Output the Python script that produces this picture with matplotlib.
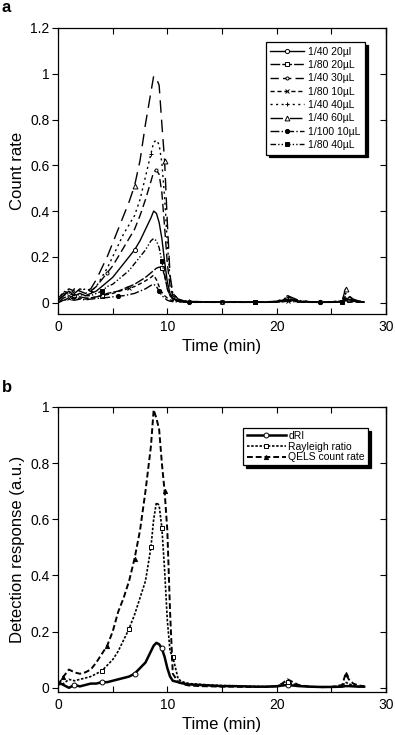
import matplotlib
matplotlib.use('Agg')
import matplotlib.pyplot as plt
from matplotlib.ticker import MultipleLocator

plt.rcParams['font.family'] = ['Liberation Sans', 'DejaVu Sans']

# Elution time (min), shared by all traces
time_min = [0, 0.5, 1, 1.5, 2, 2.5, 3, 3.5, 4, 4.5, 5, 5.5, 6, 6.5, 7, 7.5, 8,
            8.5, 8.75, 9, 9.25, 9.5, 9.75, 10, 10.25, 10.5, 11, 11.5, 12,
            13, 14, 15, 16, 17, 18, 19, 20, 20.5, 21, 21.5, 22,
            23, 24, 25, 26, 26.3, 26.6, 27, 27.5, 28]

# Panel a: QELS count rate for different dilutions / injection volumes
labels_a = ['1/40 20µl', '1/80 20µL', '1/40 30µL', '1/80 10µL',
            '1/40 40µL', '1/40 60µL', '1/100 10µL', '1/80 40µL']

cr_40_20 = [0.01, 0.03, 0.05, 0.03, 0.04, 0.03, 0.04, 0.05, 0.07, 0.09, 0.11, 0.14, 0.17,
            0.20, 0.23, 0.27, 0.32, 0.37, 0.40, 0.39, 0.35, 0.28, 0.18, 0.09, 0.04, 0.02,
            0.01, 0.006, 0.004, 0.003, 0.002, 0.002, 0.001, 0.002, 0.002, 0.001, 0.003,
            0.008, 0.015, 0.01, 0.006, 0.002, 0.001, 0.002, 0.004, 0.02, 0.015, 0.008,
            0.004, 0.002]
cr_80_20 = [0.0, 0.02, 0.03, 0.02, 0.025, 0.02, 0.02, 0.025, 0.03, 0.04, 0.045, 0.05, 0.06,
            0.07, 0.08, 0.095, 0.11, 0.13, 0.14, 0.15, 0.155, 0.15, 0.12, 0.06, 0.03, 0.015,
            0.008, 0.005, 0.003, 0.002, 0.002, 0.001, 0.002, 0.001, 0.001, 0.002, 0.003,
            0.006, 0.012, 0.008, 0.004, 0.002, 0.001, 0.001, 0.003, 0.015, 0.01, 0.006,
            0.003, 0.002]
cr_40_30 = [0.02, 0.04, 0.06, 0.05, 0.05, 0.04, 0.05, 0.07, 0.10, 0.13, 0.16, 0.20, 0.24,
            0.28, 0.32, 0.38, 0.45, 0.53, 0.57, 0.58, 0.56, 0.48, 0.33, 0.17, 0.07, 0.03,
            0.012, 0.006, 0.004, 0.003, 0.002, 0.002, 0.002, 0.001, 0.002, 0.002, 0.004,
            0.01, 0.02, 0.014, 0.008, 0.003, 0.002, 0.002, 0.006, 0.03, 0.02, 0.01,
            0.005, 0.003]
cr_80_10 = [0.0, 0.01, 0.02, 0.015, 0.02, 0.015, 0.02, 0.025, 0.03, 0.035, 0.04, 0.048, 0.055,
            0.062, 0.07, 0.082, 0.095, 0.11, 0.12, 0.10, 0.07, 0.045, 0.03, 0.02, 0.012, 0.008,
            0.005, 0.003, 0.002, 0.002, 0.001, 0.001, 0.001, 0.001, 0.001, 0.001, 0.002,
            0.004, 0.008, 0.006, 0.003, 0.001, 0.001, 0.001, 0.002, 0.01, 0.007, 0.004,
            0.002, 0.001]
cr_40_40 = [0.01, 0.05, 0.04, 0.06, 0.05, 0.06, 0.05, 0.07, 0.11, 0.15, 0.20, 0.25, 0.30,
            0.34, 0.38, 0.45, 0.55, 0.65, 0.70, 0.71, 0.69, 0.61, 0.46, 0.26, 0.10, 0.04,
            0.015, 0.008, 0.005, 0.004, 0.003, 0.002, 0.002, 0.003, 0.002, 0.002, 0.005,
            0.012, 0.025, 0.016, 0.009, 0.004, 0.002, 0.002, 0.008, 0.04, 0.025, 0.012,
            0.006, 0.003]
cr_40_60 = [0.01, 0.03, 0.06, 0.04, 0.06, 0.05, 0.06, 0.10, 0.15, 0.20, 0.26, 0.32, 0.38,
            0.44, 0.51, 0.62, 0.78, 0.92, 0.99, 0.98, 0.95, 0.78, 0.62, 0.35, 0.12, 0.04,
            0.015, 0.008, 0.005, 0.004, 0.003, 0.003, 0.002, 0.003, 0.002, 0.003, 0.006,
            0.014, 0.03, 0.02, 0.01, 0.004, 0.002, 0.003, 0.01, 0.06, 0.03, 0.015,
            0.007, 0.004]
cr_100_10 = [0.0, 0.01, 0.015, 0.01, 0.015, 0.012, 0.015, 0.018, 0.02, 0.022, 0.025, 0.028,
             0.03, 0.035, 0.04, 0.05, 0.06, 0.075, 0.08, 0.07, 0.05, 0.03, 0.02, 0.01, 0.006,
             0.004, 0.003, 0.002, 0.001, 0.001, 0.001, 0.001, 0.001, 0.001, 0.001, 0.001,
             0.002, 0.003, 0.006, 0.004, 0.002, 0.001, 0.001, 0.001, 0.002, 0.008, 0.006,
             0.003, 0.002, 0.001]
cr_80_40 = [0.01, 0.03, 0.04, 0.03, 0.035, 0.03, 0.03, 0.04, 0.05, 0.07, 0.08, 0.10, 0.12,
            0.14, 0.17, 0.20, 0.23, 0.27, 0.28, 0.27, 0.24, 0.18, 0.12, 0.06, 0.03, 0.015,
            0.007, 0.004, 0.003, 0.002, 0.002, 0.001, 0.002, 0.001, 0.002, 0.001, 0.003,
            0.007, 0.014, 0.01, 0.005, 0.002, 0.001, 0.002, 0.004, 0.02, 0.014, 0.007,
            0.004, 0.002]
series_a = [cr_40_20, cr_80_20, cr_40_30, cr_80_10, cr_40_40, cr_40_60, cr_100_10, cr_80_40]

# Panel b: detector responses for one run
labels_b = ['dRI', 'Rayleigh ratio', 'QELS count rate']
dri = [0.02, 0.01, 0.0, 0.01, 0.005, 0.01, 0.015, 0.015, 0.02, 0.02, 0.025, 0.03, 0.035,
       0.04, 0.05, 0.07, 0.09, 0.13, 0.15, 0.16, 0.155, 0.14, 0.11, 0.07, 0.04, 0.025,
       0.02, 0.015, 0.012, 0.01, 0.008, 0.006, 0.006, 0.005, 0.004, 0.004, 0.005,
       0.008, 0.01, 0.008, 0.006, 0.004, 0.003, 0.003, 0.004, 0.006, 0.006, 0.005,
       0.004, 0.004]
rayleigh = [0.01, 0.015, 0.03, 0.025, 0.03, 0.035, 0.04, 0.05, 0.06, 0.08, 0.10, 0.13,
            0.17, 0.21, 0.26, 0.32, 0.38, 0.50, 0.60, 0.66, 0.65, 0.57, 0.42, 0.24, 0.13,
            0.11, 0.03, 0.02, 0.015, 0.012, 0.01, 0.008, 0.007, 0.006, 0.005, 0.004, 0.006,
            0.012, 0.02, 0.014, 0.008, 0.004, 0.003, 0.003, 0.006, 0.02, 0.014, 0.008,
            0.005, 0.004]
qels = [0.01, 0.04, 0.065, 0.055, 0.05, 0.055, 0.065, 0.09, 0.12, 0.15, 0.20, 0.27, 0.32,
        0.38, 0.46, 0.56, 0.70, 0.86, 0.99, 0.96, 0.92, 0.80, 0.70, 0.56, 0.27, 0.05,
        0.02, 0.012, 0.008, 0.006, 0.005, 0.004, 0.004, 0.003, 0.003, 0.003, 0.006,
        0.015, 0.03, 0.02, 0.01, 0.004, 0.002, 0.003, 0.01, 0.05, 0.03, 0.015,
        0.008, 0.006]
series_b = [dri, rayleigh, qels]

yticks_a = [0, 0.2, 0.4, 0.6, 0.8, 1, 1.2]
yticks_b = [0, 0.2, 0.4, 0.6, 0.8, 1]
xticks = [0, 10, 20, 30]

# Line styles (panel a in legend order)
styles_a = [
    dict(ls='-', marker='o', mfc='white', ms=3),
    dict(ls=(0, (7, 1.5)), marker='s', mfc='white', ms=3),
    dict(ls=(0, (6, 3)), marker='o', mfc='white', ms=2.2),
    dict(ls=(0, (3, 2)), marker='x', mfc='white', ms=3),
    dict(ls=(0, (1.5, 2.5)), marker='+', mfc='white', ms=3.5),
    dict(ls=(0, (9, 5)), marker='^', mfc='white', ms=3.5),
    dict(ls='-.', marker='o', mfc='black', ms=3),
    dict(ls=(0, (4, 1.5, 1, 1.5, 1, 1.5)), marker='s', mfc='black', ms=3),
]
marks_a = [[3, 14, 31, 42], [8, 21, 34, 46], [9, 19, 34, 46], [2, 13, 31, 38],
           [6, 17, 28, 38], [14, 22, 45], [11, 20, 28, 42], [8, 21, 34, 44]]

styles_b = [
    dict(ls='-', lw=1.8, marker='o', mfc='white', ms=3.5),
    dict(ls=(0, (1.5, 1)), lw=1.2, marker='s', mfc='white', ms=3.5),
    dict(ls=(0, (3, 1.5)), lw=1.4, marker='^', mfc='black', ms=3),
]
marks_b = [[3, 8, 14, 21, 38], [8, 13, 17, 21, 25, 38], [1, 9, 14, 22, 45]]


def style_axes(ax, ylim, yticks, ylabel):
    ax.set_xlim(0, 30)
    ax.set_ylim(*ylim)
    ax.set_xticks(xticks)
    ax.xaxis.set_minor_locator(MultipleLocator(5))
    ax.set_yticks(yticks)
    ax.set_yticklabels([('%g' % v) for v in yticks])
    ax.tick_params(axis='x', which='both', direction='in', top=True,
                   length=4, width=0.8, labelsize=10, pad=4)
    ax.tick_params(axis='y', direction='out', right=False,
                   length=4, width=0.8, labelsize=10, pad=2)
    # right-hand ticks point inwards
    sec = ax.secondary_yaxis('right')
    sec.set_yticks(yticks)
    sec.tick_params(direction='in', length=4, width=0.8, labelright=False)
    sec.spines['right'].set_linewidth(0.9)
    ax.set_xlabel('Time (min)', fontsize=12, labelpad=4)
    ax.set_ylabel(ylabel, fontsize=12, labelpad=4)
    for sp in ax.spines.values():
        sp.set_linewidth(0.9)


fig = plt.figure(figsize=(3.95, 7.35), dpi=100)
ax_a = fig.add_axes([58 / 395, 1 - 314 / 735, 328 / 395, 286 / 735])
ax_b = fig.add_axes([58 / 395, 1 - 692 / 735, 328 / 395, 285 / 735])

for vals, lab, st, mk in zip(series_a, labels_a, styles_a, marks_a):
    ax_a.plot(time_min, vals, color='black', lw=1.0, mec='black', mew=0.7,
              markevery=mk, label=lab, **st)

for vals, lab, st, mk in zip(series_b, labels_b, styles_b, marks_b):
    ax_b.plot(time_min, vals, color='black', mec='black', mew=0.7,
              markevery=mk, label=lab, **st)

style_axes(ax_a, (-0.05, 1.2), yticks_a, 'Count rate')
style_axes(ax_b, (-0.015, 1.0), yticks_b, 'Detection response (a.u.)')

shadow = {'color': 'black', 'alpha': 1}
leg_a = ax_a.legend(loc='upper right', bbox_to_anchor=(1 - 21 / 328, 1 - 14 / 286),
                    borderaxespad=0, fontsize=7.5, handlelength=3.2, handletextpad=0.4,
                    labelspacing=0.32, borderpad=0.45, fancybox=False, shadow=shadow,
                    framealpha=1, edgecolor='black')
leg_a.get_frame().set_linewidth(0.9)

leg_b = ax_b.legend(loc='upper right', bbox_to_anchor=(1 - 18 / 328, 1 - 21 / 285),
                    borderaxespad=0, fontsize=7.5, handlelength=3.8, handletextpad=0.2,
                    labelspacing=0.05, borderpad=0.3, fancybox=False, shadow=shadow,
                    framealpha=1, edgecolor='black')
leg_b.get_frame().set_linewidth(0.9)

fig.text(2 / 395, 1 - 7 / 735, 'a', fontsize=12, fontweight='bold', va='center')
fig.text(2 / 395, 1 - 388 / 735, 'b', fontsize=12, fontweight='bold', va='center')

fig.savefig('out.png', dpi=100)
